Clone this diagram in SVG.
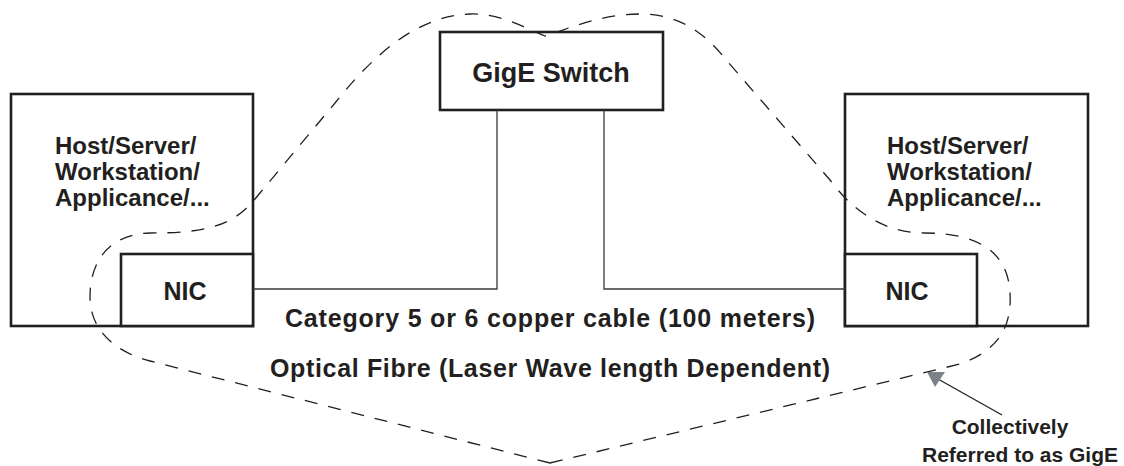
<svg xmlns="http://www.w3.org/2000/svg" width="1124" height="466" viewBox="0 0 1124 466">
  <style>
    .box { fill: #ffffff; stroke: #231f20; stroke-width: 2.6; }
    .cable { fill: none; stroke: #3a3a3a; stroke-width: 1.3; }
    .cloud { fill: none; stroke: #231f20; stroke-width: 1.3; stroke-dasharray: 13 11; }
    .lbl { font-family: "Liberation Sans", Arial, sans-serif; font-weight: bold; fill: #231f20; }
    .host { font-size: 24px; }
    .nic { font-size: 25px; text-anchor: middle; }
    .cap { font-size: 25px; text-anchor: middle; }
    .note { font-size: 21px; text-anchor: middle; }
  </style>
  <rect width="1124" height="466" fill="#ffffff"/>

  <g id="node-host-left">
    <rect class="box" x="11" y="94" width="242" height="232"/>
    <text class="lbl host" x="55" y="154">Host/Server/</text>
    <text class="lbl host" x="55" y="180">Workstation/</text>
    <text class="lbl host" x="55" y="206">Applicance/...</text>
  </g>
  <g id="node-nic-left">
    <rect class="box" x="121" y="254" width="132" height="72"/>
    <text class="lbl nic" x="185" y="300">NIC</text>
  </g>

  <g id="node-switch">
    <rect class="box" x="440" y="32" width="223" height="78"/>
    <text class="lbl" x="551" y="82" font-size="27" text-anchor="middle">GigE Switch</text>
  </g>

  <g id="node-host-right">
    <rect class="box" x="845" y="94" width="243" height="232"/>
    <text class="lbl host" x="887" y="154">Host/Server/</text>
    <text class="lbl host" x="887" y="180">Workstation/</text>
    <text class="lbl host" x="887" y="206">Applicance/...</text>
  </g>
  <g id="node-nic-right">
    <rect class="box" x="845" y="254" width="132" height="72"/>
    <text class="lbl nic" x="907" y="300">NIC</text>
  </g>

  <g id="connectors">
    <path class="cable" d="M253 289 H497 V110"/>
    <path class="cable" d="M604 110 V289 H845"/>
    <path class="cloud" d="M550 463 L150 361 C115 352 90 330 90 297 C90 260 110 234 150 233 C200 233 232 228 255 199 L335 103 C365 66 410 16 470 14 C500 13 525 28 545 36 C565 30 600 14 640 14 C680 14 705 33 728 62 L830 180 C850 207 880 233 925 233 C975 233 1008 250 1010 293 C1012 325 1000 350 960 364 Z"/>
    <line x1="1002" y1="415" x2="938" y2="379" stroke="#231f20" stroke-width="1.3"/>
    <polygon points="927,372 945,372 935,387" fill="#7d8289"/>
  </g>

  <g id="labels">
    <text class="lbl cap" x="550" y="327" textLength="530" lengthAdjust="spacing">Category 5 or 6 copper cable (100 meters)</text>
    <text class="lbl cap" x="550" y="377" textLength="560" lengthAdjust="spacing">Optical Fibre (Laser Wave length Dependent)</text>
    <text class="lbl note" x="1010" y="434">Collectively</text>
    <text class="lbl note" x="1020" y="462">Referred to as GigE</text>
  </g>
</svg>
